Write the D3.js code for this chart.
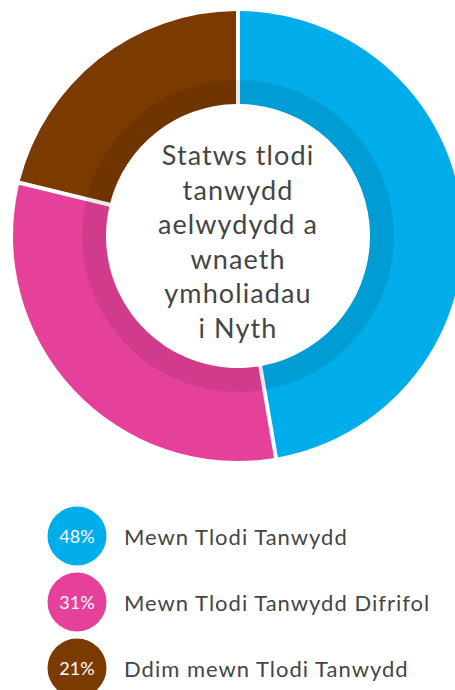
<!DOCTYPE html>
<html>
<head>
<meta charset="utf-8">
<script src="https://cdn.jsdelivr.net/npm/d3@7"></script>
<style>
  html, body { margin: 0; padding: 0; background: #fff; overflow: hidden; }
  svg { display: block; font-family: Lato, "Noto Sans", sans-serif; }
</style>
</head>
<body>
<div id="c"></div>
<script>
"use strict";

const categories = ["Mewn Tlodi Tanwydd", "Mewn Tlodi Tanwydd Difrifol", "Ddim mewn Tlodi Tanwydd"]
const shares = [47.3, 31.5, 21.2]
const pctLabels = ["48%", "31%", "21%"]
const colors = ["#00adeb", "#e6419a", "#7b3a00"]
const titleLines = ["Statws tlodi", "tanwydd", "aelwydydd a", "wnaeth", "ymholiadau", "i Nyth"]

const W = 455, H = 690
const cx = 238, cy = 236
const rOuter = 225, rBand = 156, rInner = 132
const gap = 4

let svg = d3.select('#c').append('svg')
    .attr('width', W).attr('height', H)

let pie = d3.pie().sort(null).value(d => d)
let arcs = pie(shares)

let chart = svg.append('g').attr('transform', "translate(" + cx + "," + cy + ")")

let arc = d3.arc()
    .innerRadius(rInner).outerRadius(rOuter)
    .padRadius(rOuter).padAngle(gap / rOuter)

chart.selectAll('path.slice')
    .data(arcs)
    .enter()
    .append('path')
        .attr('class', 'slice')
        .attr('d', arc)
        .attr('fill', (d, i) => colors[i])

// darker inner band laid over the slices (and the gaps)
chart.append('path')
    .attr('d', d3.arc().innerRadius(rInner).outerRadius(rBand).startAngle(0).endAngle(2 * Math.PI)())
    .attr('fill', '#000')
    .attr('fill-opacity', 0.09)

// centre title
let title = chart.append('text')
    .attr('text-anchor', 'middle')
    .attr('fill', '#454545')
    .style('font-size', '27px')
    .style('letter-spacing', '1.1px')
titleLines.forEach((line, i) => {
    title.append('tspan')
        .attr('x', 0)
        .attr('y', -71 + i * 34.5)
        .text(line)
})

// legend
let legend = svg.append('g').attr('transform', "translate(77,536)")
let item = legend.selectAll('g.item')
    .data(categories)
    .enter()
    .append('g')
        .attr('class', 'item')
        .attr('transform', (d, i) => "translate(0," + i * 66 + ")")

item.append('circle')
    .attr('r', 29.5)
    .attr('fill', (d, i) => colors[i])

item.append('text')
    .attr('text-anchor', 'middle')
    .attr('y', 7)
    .attr('fill', '#fff')
    .style('font-size', '18px')
    .text((d, i) => pctLabels[i])

item.append('text')
    .attr('x', 47)
    .attr('y', 9)
    .attr('fill', '#454545')
    .style('font-size', '22px')
    .style('letter-spacing', '1px')
    .text(d => d)
</script>
</body>
</html>
